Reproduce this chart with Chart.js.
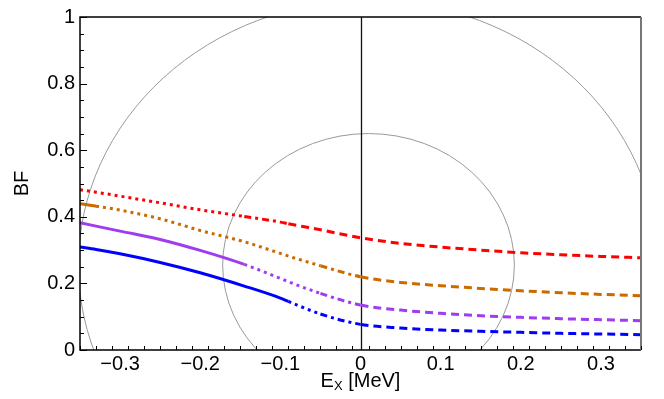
<!DOCTYPE html>
<html>
<head>
<meta charset="utf-8">
<script src="https://cdn.jsdelivr.net/npm/chart.js@4.4.1/dist/chart.umd.min.js"></script>
<style>
  html, body { margin: 0; padding: 0; background: #fff; }
  #wrap { width: 664px; height: 399px; }
</style>
</head>
<body>
<div id="wrap"><canvas id="chart" width="664" height="399"></canvas></div>
<script>
// data
const xValues = [-0.35, -0.33, -0.3, -0.25, -0.2, -0.145, -0.1, -0.09, -0.05, 0, 0.05, 0.1, 0.15, 0.2, 0.25, 0.3, 0.35];
const redValues    = [0.481, 0.474, 0.462, 0.442, 0.421, 0.401, 0.384, 0.379, 0.361, 0.337, 0.320, 0.309, 0.300, 0.292, 0.286, 0.281, 0.277];
const orangeValues = [0.439, 0.432, 0.420, 0.394, 0.359, 0.325, 0.290, 0.282, 0.253, 0.220, 0.203, 0.193, 0.185, 0.178, 0.172, 0.167, 0.163];
const purpleValues = [0.382, 0.372, 0.357, 0.332, 0.299, 0.257, 0.215, 0.205, 0.170, 0.135, 0.120, 0.110, 0.103, 0.098, 0.094, 0.091, 0.088];
const blueValues   = [0.309, 0.302, 0.289, 0.263, 0.232, 0.192, 0.156, 0.146, 0.108, 0.077, 0.066, 0.060, 0.056, 0.053, 0.050, 0.048, 0.046];
const xTicks = [-0.3, -0.2, -0.1, 0, 0.1, 0.2, 0.3];
const yTicks = [0, 0.2, 0.4, 0.6, 0.8, 1];
// where each curve goes solid -> dotted -> dash-dot -> dashed
const solidEnd  = [-0.35, -0.33, -0.145, -0.09];
const mixStart  = [-0.145, -0.05, -0.05, -0.05];
const dashStart = [-0.09, 0, 0, 0];
// the two grey ellipses, in data units: centre and radii
const ellipseCenter = [0.01, 0.255];
const ellipseRadii = [[0.182, 0.395], [0.362, 0.795]];

const colors = ['#ff0000', '#cc6a00', '#a03cf0', '#0000ff'];
const allValues = [redValues, orangeValues, purpleValues, blueValues];
const FONT = '"Liberation Sans", Arial, sans-serif';

const makeSet = (vals, i) => ({
    data: xValues.map((x, k) => ({x: x, y: vals[k]})),
    borderColor: colors[i],
    borderWidth: 3,
    pointRadius: 0,
    cubicInterpolationMode: 'monotone',
    borderCapStyle: 'butt',
    fill: false,
    segment: {
        borderDash: ctx => {
            const x = ctx.p0.parsed.x;
            if (x < solidEnd[i] - 1e-9) return [];
            if (x < mixStart[i] - 1e-9) return [3, 4];
            if (x < dashStart[i] - 1e-9) return [7, 4, 3, 4];
            return [8, 5];
        }
    }
});

const decor = {
    id: 'decor',
    beforeDatasetsDraw(chart) {
        const {ctx, chartArea: a, scales: {x, y}} = chart;
        ctx.save();
        ctx.beginPath();
        ctx.rect(a.left, a.top, a.right - a.left, a.bottom - a.top);
        ctx.clip();
        ctx.strokeStyle = '#999';
        ctx.lineWidth = 1;
        const cx = x.getPixelForValue(ellipseCenter[0]);
        const cy = y.getPixelForValue(ellipseCenter[1]);
        ellipseRadii.forEach(r => {
            const rx = x.getPixelForValue(ellipseCenter[0] + r[0]) - cx;
            const ry = cy - y.getPixelForValue(ellipseCenter[1] + r[1]);
            ctx.beginPath();
            ctx.ellipse(cx, cy, rx, ry, 0, 0, Math.PI * 2);
            ctx.stroke();
        });
        // zero line
        const x0 = Math.round(x.getPixelForValue(0)) + 0.5;
        ctx.strokeStyle = '#111';
        ctx.lineWidth = 1.3;
        ctx.beginPath();
        ctx.moveTo(x0, a.top);
        ctx.lineTo(x0, a.bottom);
        ctx.stroke();
        ctx.restore();
    },
    afterDraw(chart) {
        const {ctx, chartArea: a, scales: {x, y}} = chart;
        ctx.save();
        // frame
        ctx.lineWidth = 1.5;
        ctx.strokeStyle = '#000';
        ctx.beginPath();
        ctx.moveTo(a.right, a.top);
        ctx.lineTo(a.left, a.top);
        ctx.lineTo(a.left, a.bottom);
        ctx.lineTo(a.right, a.bottom);
        ctx.stroke();
        ctx.strokeStyle = '#777';
        ctx.lineWidth = 2;
        ctx.beginPath();
        ctx.moveTo(a.right, a.top);
        ctx.lineTo(a.right, a.bottom);
        ctx.stroke();
        // inward ticks
        ctx.strokeStyle = '#000';
        ctx.lineWidth = 1;
        for (let k = -35; k <= 35; k += 2) {
            const v = k / 100;
            const px = Math.round(x.getPixelForValue(v)) + 0.5;
            const len = (k % 10 === 0) ? 7 : 4;
            ctx.beginPath();
            ctx.moveTo(px, a.bottom);
            ctx.lineTo(px, a.bottom - len);
            ctx.stroke();
        }
        for (let k = 0; k <= 100; k += 5) {
            const py = Math.round(y.getPixelForValue(k / 100)) + 0.5;
            const len = (k % 20 === 0) ? 7 : 4;
            ctx.beginPath();
            ctx.moveTo(a.left, py);
            ctx.lineTo(a.left + len, py);
            ctx.stroke();
        }
        // axis titles
        ctx.fillStyle = '#000';
        ctx.font = '20px ' + FONT;
        ctx.textBaseline = 'middle';
        ctx.save();
        ctx.translate(22, (a.top + a.bottom) / 2);
        ctx.rotate(-Math.PI / 2);
        ctx.textAlign = 'center';
        ctx.fillText('BF', 0, 0);
        ctx.restore();
        const t1 = 'E', t2 = 'X', t3 = ' [MeV]';
        ctx.font = '20px ' + FONT;
        const w1 = ctx.measureText(t1).width, w3 = ctx.measureText(t3).width;
        ctx.font = '13px ' + FONT;
        const w2 = ctx.measureText(t2).width;
        let sx = x.getPixelForValue(0) - (w1 + w2 + w3) / 2;
        const ty = 381;
        ctx.textAlign = 'left';
        ctx.font = '20px ' + FONT;
        ctx.fillText(t1, sx, ty);
        ctx.font = '13px ' + FONT;
        ctx.fillText(t2, sx + w1, ty + 5);
        ctx.font = '20px ' + FONT;
        ctx.fillText(t3, sx + w1 + w2, ty);
        ctx.restore();
    }
};

const fmt = v => {
    const s = Math.abs(v) < 1e-9 ? '0' : String(Math.round(Math.abs(v) * 10) / 10);
    return v < -1e-9 ? '\u2212' + s : s;
};

new Chart(document.getElementById('chart'), {
    type: 'line',
    data: { datasets: allValues.map(makeSet) },
    options: {
        responsive: false,
        animation: false,
        layout: { padding: { left: 0, top: 16, right: 23, bottom: 0 } },
        plugins: { legend: { display: false }, tooltip: { enabled: false } },
        scales: {
            x: {
                type: 'linear', min: -0.35, max: 0.35,
                grid: { display: false, drawTicks: false },
                border: { display: false },
                afterBuildTicks: s => { s.ticks = xTicks.map(v => ({value: v})); },
                afterFit: s => { s.height = 49; },
                ticks: { color: '#000', font: { family: FONT, size: 20 }, padding: 2, maxRotation: 0, callback: v => fmt(v) }
            },
            y: {
                min: 0, max: 1,
                grid: { display: false, drawTicks: false },
                border: { display: false },
                afterBuildTicks: s => { s.ticks = yTicks.map(v => ({value: v})); },
                afterFit: s => { s.width = 80; },
                ticks: { color: '#000', font: { family: FONT, size: 20 }, padding: 5, callback: v => fmt(v) }
            }
        }
    },
    plugins: [decor]
});
</script>
</body>
</html>
